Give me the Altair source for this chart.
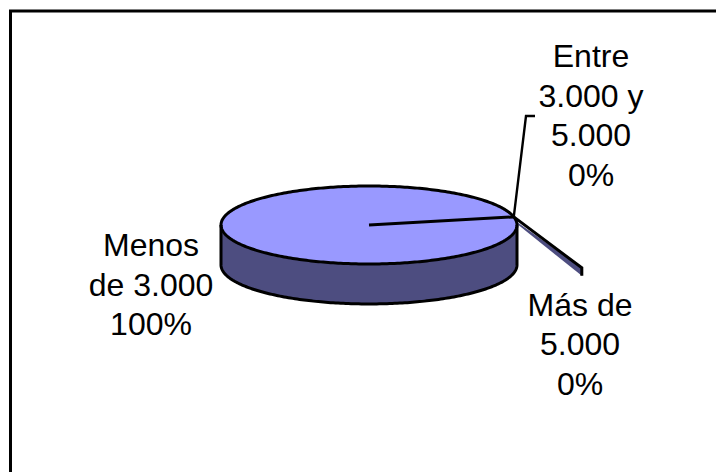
import numpy as np
import pandas as pd
import altair as alt

# Income bands and their share of respondents
categories = ["Menos\nde 3.000", "Entre\n3.000 y\n5.000", "Más de\n5.000"]
shares = [100, 0, 0]

# Pie projection, in pie radii
TILT = 0.2635
DEPTH = 0.27
START_DEG = 12
EXPLODE_DEG = -37.4
EXPLODE_R = 1.81
SLIVER_DEPTH = 0.054

TOP = "#9999ff"
SIDE = "#4d4d80"
INK = "#000000"
WIDTH, HEIGHT = 716, 472

x_scale = alt.Scale(domain=[-369 / 148, 347 / 148], nice=False, zero=False)
y_scale = alt.Scale(domain=[-247 / 148, 225 / 148], nice=False, zero=False)
X = alt.X("x:Q", scale=x_scale, axis=None)
Y = alt.Y("y:Q", scale=y_scale, axis=None)


def rim(deg, radius=1.0):
    t = np.radians(deg)
    return radius * np.cos(t), radius * TILT * np.sin(t)


sweep = np.linspace(180, 360, 181)

# Circular slices: the rim's upper and lower halves bound the top face
xs, ys = rim(sweep)
top_face = pd.DataFrame({"x": xs, "y": -ys, "y2": ys})
side_wall = pd.DataFrame({"x": xs, "y": ys, "y2": ys - DEPTH})

# Closed outlines
loop = np.linspace(0, 360, 361)
lx, ly = rim(loop)
top_outline = pd.DataFrame({"x": lx, "y": ly, "o": loop})
wall_outline = pd.DataFrame(
    {
        "x": np.r_[xs[0], xs, xs[-1]],
        "y": np.r_[ys[0], ys - DEPTH, ys[-1]],
    }
).assign(o=lambda d: range(len(d)))

# Boundary between the full slice and the empty ones
bx, by = rim(START_DEG)
boundary = pd.DataFrame({"x": [0, bx], "y": [0, by], "o": [0, 1]})

# Exploded empty slice, seen as a thin sliver
tx, ty = rim(EXPLODE_DEG, EXPLODE_R)
sliver = pd.DataFrame({"x": [bx, tx], "y": [by - 0.02, ty], "y2": [by - 0.03, ty - SLIVER_DEPTH]})
sliver_edge = pd.DataFrame(
    {"x": [bx, tx, tx], "y": [by, ty, ty - SLIVER_DEPTH], "o": [0, 1, 2]}
)

# Leader from the rim to the label of the middle band
leader = pd.DataFrame(
    {"x": [bx, (525 - 368) / 148, (534 - 368) / 148], "y": [by, (225 - 116) / 148, (225 - 116) / 148], "o": [0, 1, 2]}
)


def line(df, width=3.0):
    return (
        alt.Chart(df)
        .mark_line(color=INK, strokeWidth=width, strokeJoin="miter", strokeCap="butt", interpolate="linear")
        .encode(x=X, y=Y, order="o:Q")
    )


def face(df, colour):
    return (
        alt.Chart(df)
        .mark_area(color=colour, opacity=1, interpolate="linear", line=False)
        .encode(x=X, y=Y, y2="y2:Q")
    )


def label(index, px, py):
    text = f"{categories[index]}\n{shares[index]}%"
    return (
        alt.Chart(pd.DataFrame({"t": [text]}))
        .mark_text(
            font="Liberation Sans",
            fontSize=32,
            lineBreak="\n",
            lineHeight=39.5,
            align="center",
            baseline="alphabetic",
            color=INK,
        )
        .encode(text="t:N", x=alt.value(px), y=alt.value(py))
    )


frame_top = alt.Chart(pd.DataFrame({"a": [0]})).mark_rule(color=INK, strokeWidth=3).encode(
    x=alt.value(9), x2=alt.value(WIDTH), y=alt.value(11)
)
frame_left = alt.Chart(pd.DataFrame({"a": [0]})).mark_rule(color=INK, strokeWidth=3).encode(
    x=alt.value(10.5), y=alt.value(10), y2=alt.value(HEIGHT)
)

chart = (
    alt.layer(
        frame_top,
        frame_left,
        face(sliver, SIDE),
        line(sliver_edge),
        face(side_wall, SIDE),
        face(top_face, TOP),
        line(wall_outline),
        line(top_outline),
        line(boundary),
        line(leader, 2.4),
        label(0, 151, 256),
        label(1, 591, 67),
        label(2, 580, 315.5),
    )
    .properties(width=WIDTH, height=HEIGHT, padding=0, autosize=alt.AutoSizeParams(type="none"), background="white")
    .configure_view(stroke=None)
)

chart.save("out.html", embed_options={"renderer": "svg", "actions": False})
